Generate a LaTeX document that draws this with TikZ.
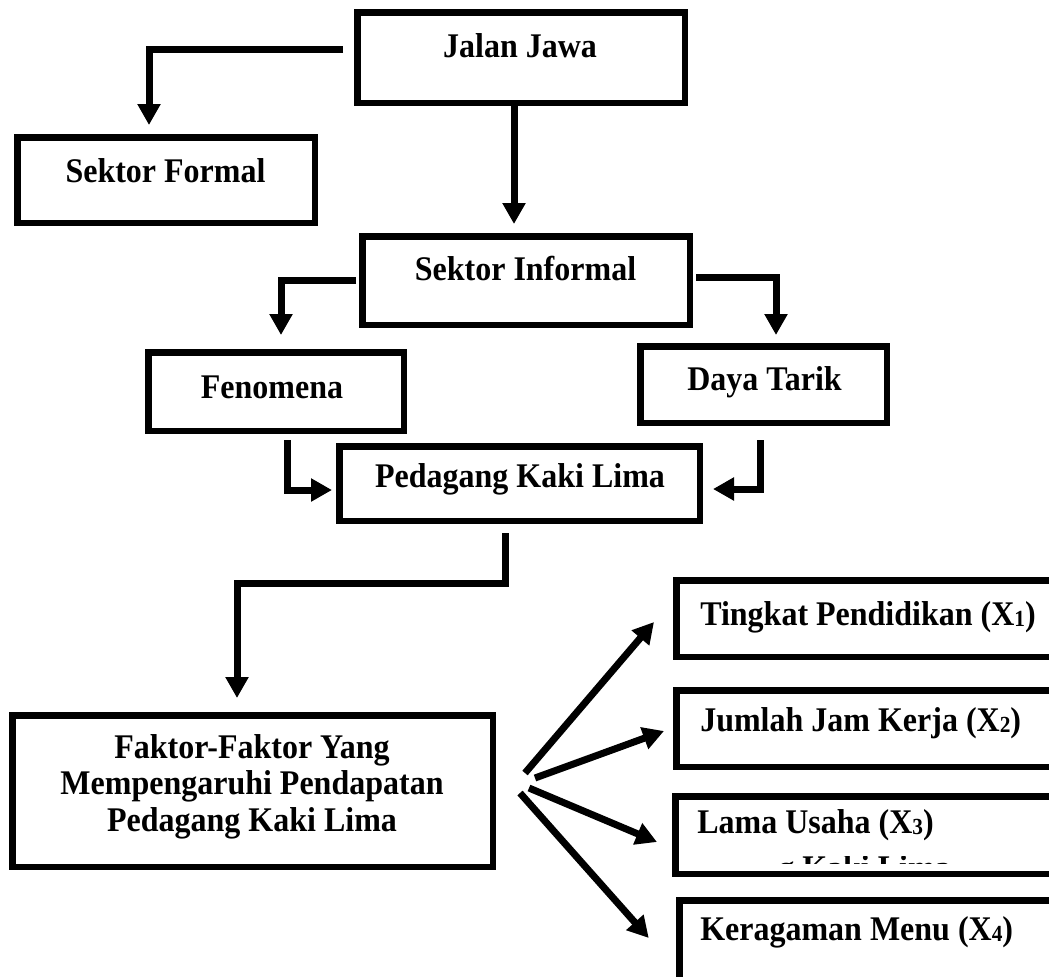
\documentclass[tikz,border=0pt]{standalone}
\usepackage{fontspec}
\usepackage{graphicx}
\setmainfont{Liberation Serif}
\usetikzlibrary{arrows.meta,calc}
\newcommand\sbs[1]{\raisebox{-1pt}{\fontsize{16}{16}\selectfont #1}}
\newcommand\vs[1]{\scalebox{1}[1.08]{#1}}
\begin{document}
\begin{tikzpicture}[x=0.75pt,y=-0.75pt,
  box/.style={draw, line width=4.875pt, inner sep=0pt, line join=miter},
  lbl/.style={inner sep=0pt, anchor=base, font=\fontsize{24}{27}\selectfont\bfseries},
  lblw/.style={lbl, anchor=base west},
  arr/.style={line width=5.25pt, line join=miter, -{Triangle[length=15.75pt,width=16.5pt]}}]
\useasboundingbox (0,0) rectangle (1049,976);
\begin{scope}
\clip (0,0) rectangle (1049,976);
% boxes
\node[box, minimum width=327.5*0.75pt, minimum height=90.5*0.75pt] (jj) at (521,57.5) {};
\node[box, minimum width=297.5*0.75pt, minimum height=85.5*0.75pt] (sf) at (166,180) {};
\node[box, minimum width=327.5*0.75pt, minimum height=88.5*0.75pt] (si) at (526,280.5) {};
\node[box, minimum width=255.5*0.75pt, minimum height=78.5*0.75pt] (fe) at (276,391.5) {};
\node[box, minimum width=246.5*0.75pt, minimum height=76.5*0.75pt] (dt) at (763.5,384.5) {};
\node[box, minimum width=360.5*0.75pt, minimum height=74.5*0.75pt] (pk) at (519.5,483.5) {};
\node[box, minimum width=480.5*0.75pt, minimum height=151.5*0.75pt] (fk) at (252.5,791) {};
\node[box, minimum width=420.5*0.75pt, minimum height=76.5*0.75pt] (tp) at (886.5,618.5) {};
\node[box, minimum width=420.5*0.75pt, minimum height=76.5*0.75pt] (jk) at (886.5,728.5) {};
\node[box, minimum width=421.5*0.75pt, minimum height=77.5*0.75pt] (lu) at (886,835) {};
\node[box, minimum width=417.5*0.75pt, minimum height=81.5*0.75pt] (km) at (888,941) {};
% labels
\node[lbl] (jjt) at (520,57) {\vs{Jalan Jawa}};
\node[lbl] (sft) at (165.5,182) {\vs{Sektor Formal}};
\node[lbl] (sit) at (525.5,280) {\vs{Sektor Informal}};
\node[lbl] (fet) at (272,398) {\vs{Fenomena}};
\node[lbl] (dtt) at (764.5,390) {\vs{Daya Tarik}};
\node[lbl] (pkt) at (520,487) {\vs{Pedagang Kaki Lima}};
\node[lbl] (fk1) at (252,758) {\vs{Faktor-Faktor Yang}};
\node[lbl] (fk2) at (252,794) {\vs{Mempengaruhi Pendapatan}};
\node[lbl] (fk3) at (252,831) {\vs{Pedagang Kaki Lima}};
\node[lblw] (tpt) at (700,625) {\vs{Tingkat Pendidikan (X\sbs{1})}};
\node[lblw] (jkt) at (700,731) {\vs{Jumlah Jam Kerja (X\sbs{2})}};
\node[lblw] (lut) at (697,833) {\vs{Lama Usaha (X\sbs{3})}};
\node[lblw] (kmt) at (700,940) {\vs{Keragaman Menu (X\sbs{4})}};
\begin{scope}
\clip (770,856) rectangle (960,863.5);
\node[lblw] (lu2) at (778,879) {\vs{g Kaki Lima}};
\end{scope}
% connectors
\draw[arr] ($(jj.west)+(-11,-8)$) -| ($(sf.north)+(-17,-9)$);
\draw[arr] ($(jj.south)+(-7,0)$) -- ($(si.north)+(-12,-9)$);
\draw[arr] ($(si.west)+(-3,0)$) -| ($(fe.north)+(5,-14)$);
\draw[arr] ($(si.east)+(3,-3)$) -| ($(dt.north)+(12.5,-8)$);
\draw[arr] ($(fe.south)+(11,6)$) |- ($(pk.west)+(-4,6.5)$);
\draw[arr] ($(dt.south)+(-3.5,14)$) |- ($(pk.east)+(10,5.5)$);
\draw[arr] ($(pk.south)+(-14.5,9)$) -- ++(0,50.25) -| ($(fk.north)+(-15.5,-14)$);
\draw[arr] ($(fk.east)+(29,-18)$) -- ($(tp.west)+(-19,3.5)$);
\draw[arr] ($(fk.east)+(39,-13)$) -- ($(jk.west)+(-9,2.5)$);
\draw[arr] ($(fk.east)+(33,-3)$) -- ($(lu.west)+(-15,7)$);
\draw[arr] ($(fk.east)+(24,2)$) -- ($(km.west)+(-27.25,-3)$);
\end{scope}
\end{tikzpicture}
\end{document}
